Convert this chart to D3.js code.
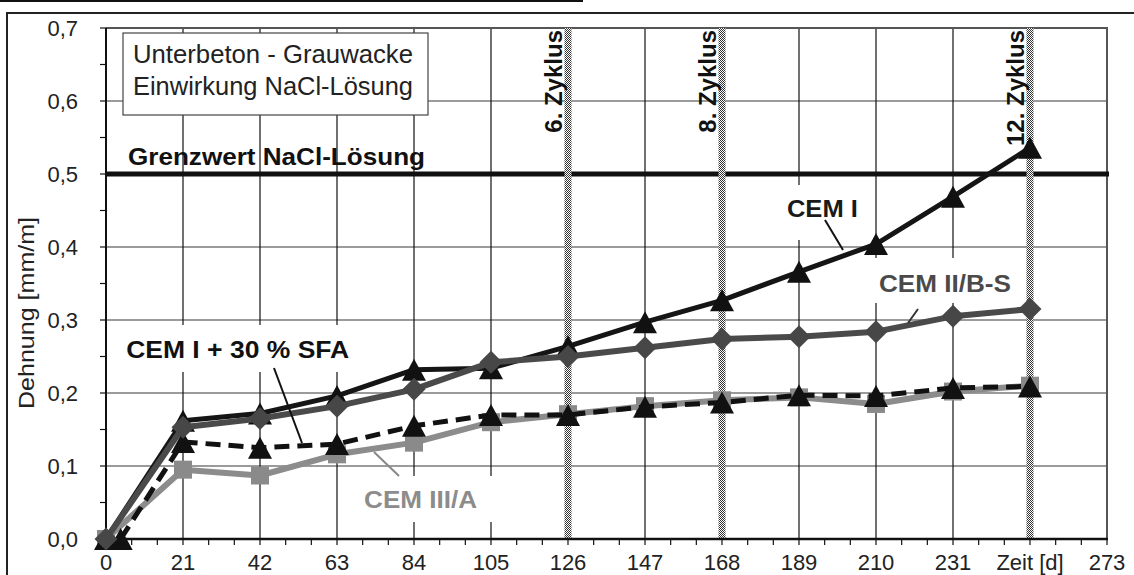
<!DOCTYPE html>
<html><head><meta charset="utf-8">
<script src="https://cdn.jsdelivr.net/npm/d3@7"></script>
<style>
html,body{margin:0;padding:0;background:#fff;}
svg{display:block;}
text{font-family:"Liberation Sans",Arial,sans-serif;}
</style></head>
<body>
<svg id="chart" width="1134" height="575"></svg>
<script>
// ---- data ----
const days = [0,21,42,63,84,105,126,147,168,189,210,231,252];
const sfaDays = [4,21,42,63,84,105,126,147,168,189,210,231,252];
const cemI    = [0,0.162,0.172,0.196,0.232,0.234,0.264,0.297,0.327,0.366,0.404,0.469,0.536];
const cemIIBS = [0,0.153,0.165,0.182,0.205,0.242,0.250,0.262,0.274,0.277,0.284,0.305,0.315];
const cemISFA = [0,0.133,0.125,0.130,0.155,0.170,0.170,0.181,0.187,0.197,0.196,0.207,0.209];
const cemIIIA = [0,0.095,0.087,0.116,0.132,0.160,0.171,0.182,0.190,0.194,0.185,0.202,0.210];
const xTickValues = [0,21,42,63,84,105,126,147,168,189,210,231,252,273];
const xTickLabels = ["0","21","42","63","84","105","126","147","168","189","210","231","Zeit [d]","273"];
const yTickValues = [0,0.1,0.2,0.3,0.4,0.5,0.6,0.7];
const yTickLabels = ["0,0","0,1","0,2","0,3","0,4","0,5","0,6","0,7"];
const cycleDays = [126,168,252];
const cycleLabels = ["6. Zyklus","8. Zyklus","12. Zyklus"];
const limitValue = 0.5;
const limitLabel = "Grenzwert NaCl-Lösung";
const infoLines = ["Unterbeton - Grauwacke","Einwirkung NaCl-Lösung"];
const yTitle = "Dehnung [mm/m]";

const svg = d3.select("#chart");
const L = 106, R = 1107, T = 28, B = 539;
const x = d3.scaleLinear().domain([0,273]).range([L,R]);
const y = d3.scaleLinear().domain([0,0.7]).range([B,T]);

// pattern for cycle bars
const defs = svg.append("defs");
const pat = defs.append("pattern").attr("id","checker").attr("width",2).attr("height",2).attr("patternUnits","userSpaceOnUse");
pat.append("rect").attr("width",2).attr("height",2).attr("fill","#fff");
pat.append("rect").attr("width",1).attr("height",1).attr("fill","#333");
pat.append("rect").attr("x",1).attr("y",1).attr("width",1).attr("height",1).attr("fill","#333");

// outer frame
svg.append("line").attr("x1",0).attr("x2",583).attr("y1",1).attr("y2",1).attr("stroke","#111").attr("stroke-width",2);
svg.append("path").attr("d","M7,575 V13 H1134").attr("fill","none").attr("stroke","#222").attr("stroke-width",2);

// horizontal gridlines
svg.append("g").selectAll("line").data([0.1,0.2,0.3,0.4,0.6]).join("line")
  .attr("x1",L).attr("x2",R).attr("y1",d=>y(d)).attr("y2",d=>y(d))
  .attr("stroke","#7a7a7a").attr("stroke-width",1.5);
// vertical gridlines
svg.append("g").selectAll("line").data(xTickValues.filter(d=>d>0 && d<273 && !cycleDays.includes(d))).join("line")
  .attr("x1",d=>x(d)).attr("x2",d=>x(d)).attr("y1",T).attr("y2",B)
  .attr("stroke","#111").attr("stroke-width",1.2);

// plot border top/right
svg.append("path").attr("d",`M${L},${T} H${R} V${B}`).attr("fill","none").attr("stroke","#555").attr("stroke-width",2);

// info box
const info = svg.append("g");
info.append("rect").attr("x",123).attr("y",33).attr("width",305).attr("height",82)
  .attr("fill","#fff").attr("stroke","#444").attr("stroke-width",1.2);
info.selectAll("text").data(infoLines).join("text")
  .attr("x",133).attr("y",(d,i)=>63+i*32)
  .attr("font-family","Carlito, Calibri, Lato, 'Open Sans', sans-serif").attr("font-size",25)
  .attr("fill","#222").attr("textLength",280).attr("lengthAdjust","spacingAndGlyphs")
  .text(d=>d);

// label background boxes (hide gridlines)
const boxes = [[780,185,88,55],[870,258,150,45],[115,325,245,47],[345,476,160,46]];
svg.append("g").selectAll("rect").data(boxes).join("rect")
  .attr("x",d=>d[0]).attr("y",d=>d[1]).attr("width",d=>d[2]).attr("height",d=>d[3]).attr("fill","#fff");

// limit line
svg.append("line").attr("x1",L).attr("x2",R+2).attr("y1",y(limitValue)).attr("y2",y(limitValue))
  .attr("stroke","#111").attr("stroke-width",5);
svg.append("text").attr("x",x(6)).attr("y",y(0.512)).attr("font-size",24).attr("font-weight","bold")
  .attr("fill","#111").attr("textLength",297).attr("lengthAdjust","spacingAndGlyphs").text(limitLabel);

// cycle bars
svg.append("g").selectAll("rect").data(cycleDays).join("rect")
  .attr("x",d=>x(d)-3.5).attr("y",T).attr("width",7).attr("height",B-T).attr("fill","url(#checker)");
svg.append("g").selectAll("text").data(cycleDays).join("text")
  .attr("transform",d=>`translate(${x(d)-6},${T+2}) rotate(-90)`)
  .attr("text-anchor","end").attr("font-size",24).attr("font-weight","bold").attr("fill","#111")
  .text((d,i)=>cycleLabels[i]);

// axes
svg.append("line").attr("x1",L).attr("x2",L).attr("y1",T).attr("y2",B+1).attr("stroke","#111").attr("stroke-width",2);
svg.append("line").attr("x1",L-1).attr("x2",R+1).attr("y1",B).attr("y2",B).attr("stroke","#111").attr("stroke-width",2.5);
const yMinor = d3.range(0,0.7001,0.05);
svg.append("g").selectAll("line").data(yMinor).join("line")
  .attr("x1",L-6).attr("x2",L).attr("y1",d=>y(d)).attr("y2",d=>y(d)).attr("stroke","#111").attr("stroke-width",1.2);
const xMinor = d3.range(0,274,7);
svg.append("g").selectAll("line").data(xMinor).join("line")
  .attr("x1",d=>x(d)).attr("x2",d=>x(d)).attr("y1",B).attr("y2",B+6).attr("stroke","#111").attr("stroke-width",1.2);
svg.append("g").selectAll("text").data(yTickValues).join("text")
  .attr("x",78).attr("y",d=>y(d)+8).attr("text-anchor","end").attr("font-size",22).attr("fill","#222")
  .text((d,i)=>yTickLabels[i]);
svg.append("g").selectAll("text").data(xTickValues).join("text")
  .attr("x",d=>x(d)).attr("y",570).attr("text-anchor","middle").attr("font-size",22).attr("fill","#222")
  .text((d,i)=>xTickLabels[i]);
svg.append("text").attr("transform",`translate(34,313) rotate(-90)`).attr("text-anchor","middle")
  .attr("font-size",22).attr("fill","#222").attr("textLength",192).attr("lengthAdjust","spacingAndGlyphs").text(yTitle);

// series
const tri = "M0,-11 L12,11 L-12,11 Z";
const dia = "M0,-11.5 L11.5,0 L0,11.5 L-11.5,0 Z";
const sq  = "M-9,-9 H9 V9 H-9 Z";
function series(xs, ys, color, width, dash, shape, mcolor){
  const pts = xs.map((d,i)=>[d,ys[i]]);
  const g = svg.append("g");
  g.append("path").datum(pts).attr("fill","none").attr("stroke",color).attr("stroke-width",width)
   .attr("stroke-dasharray",dash).attr("stroke-linejoin","round")
   .attr("d",d3.line().x(d=>x(d[0])).y(d=>y(d[1])));
  g.selectAll("path.m").data(pts).join("path").attr("class","m")
   .attr("transform",d=>`translate(${x(d[0])},${y(d[1])})`).attr("d",shape).attr("fill",mcolor);
}
series(days, cemIIIA, "#8c8c8c", 6, null, sq, "#8a8a8a");
series(sfaDays, cemISFA, "#111", 5, "15,8", tri, "#111");
series(days, cemI, "#151515", 5, null, tri, "#111");
series(days, cemIIBS, "#4a4a4a", 6, null, dia, "#474747");

// annotations
const ann = [
  {t:"CEM I", dx:185.7, v:0.441, c:"#1a1a1a", len:71, l:[[825,220],[843,250]], lc:"#111"},
  {t:"CEM II/B-S", dx:210.8, v:0.338, c:"#4a4a4a", len:132, l:[[918,309],[908,323]], lc:"#333"},
  {t:"CEM I + 30 % SFA", dx:5.5, v:0.248, c:"#111", len:223, l:[[274,368],[302,443]], lc:"#111"},
  {t:"CEM III/A", dx:70.4, v:0.0425, c:"#8c8c8c", len:113, l:[[374,452],[399,476]], lc:"#888"}
];
const ag = svg.append("g");
ag.selectAll("text").data(ann).join("text")
  .attr("x",d=>x(d.dx)).attr("y",d=>y(d.v)).attr("font-size",24).attr("font-weight","bold")
  .attr("fill",d=>d.c).attr("textLength",d=>d.len).attr("lengthAdjust","spacingAndGlyphs").text(d=>d.t);
ag.selectAll("line").data(ann).join("line")
  .attr("x1",d=>d.l[0][0]).attr("y1",d=>d.l[0][1]).attr("x2",d=>d.l[1][0]).attr("y2",d=>d.l[1][1])
  .attr("stroke",d=>d.lc).attr("stroke-width",2);
</script>
</body></html>
